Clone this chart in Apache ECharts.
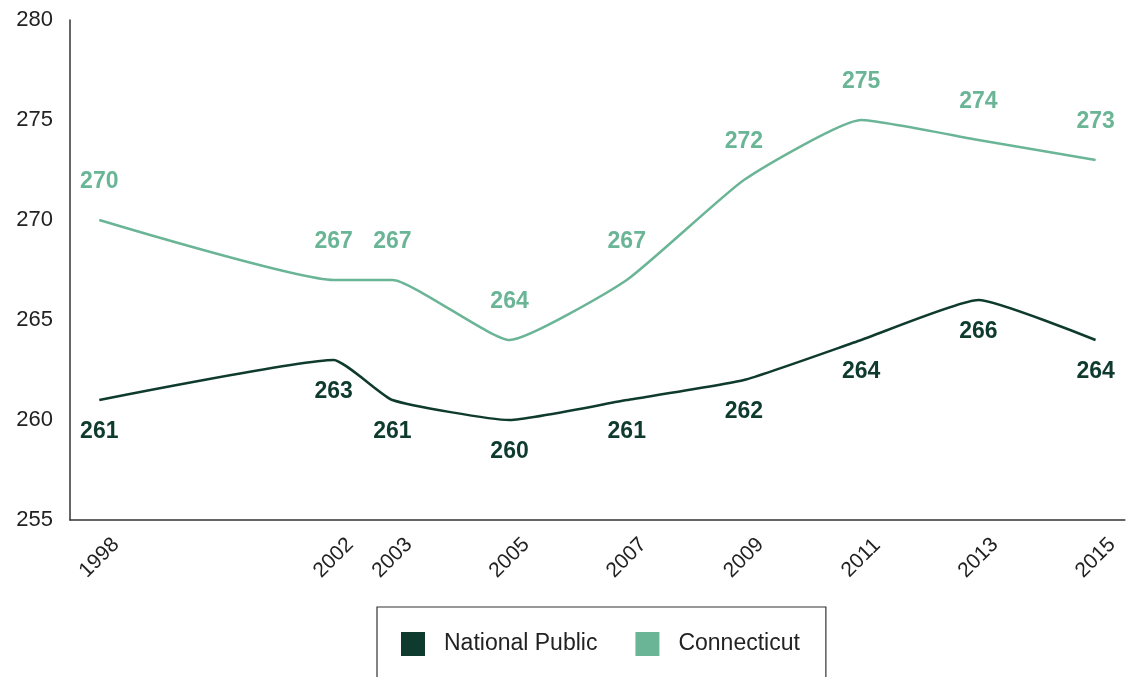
<!DOCTYPE html>
<html><head><meta charset="utf-8">
<script src="https://cdn.jsdelivr.net/npm/echarts@6/dist/echarts.min.js"></script>
<style>html,body{margin:0;padding:0;background:#fff}#c{width:1127px;height:677px}</style>
</head><body><div id="c"></div>
<script>
const years = [1998, 2002, 2003, 2005, 2007, 2009, 2011, 2013, 2015];
const nationalPublic = [261, 263, 261, 260, 261, 262, 264, 266, 264];
const connecticut = [270, 267, 267, 264, 267, 272, 275, 274, 273];
const yTicks = [255, 260, 265, 270, 275, 280];

const darkC = '#0f3b2e', lightC = '#6bb597';
const font = '"Liberation Sans", Arial, sans-serif';
const chart = echarts.init(document.getElementById('c'));
chart.setOption({
  animation: false,
  grid: {left: 70, right: 0, top: 20, bottom: 157},
  xAxis: {
    type: 'value', min: 1997.5, max: 2015.5, interval: 0.5,
    axisLine: {lineStyle: {color: '#333', width: 1.5}},
    axisTick: {show: false}, splitLine: {show: false},
    axisLabel: {
      rotate: 45, margin: 38, fontSize: 21, color: '#222', fontFamily: font,
      align: 'center', verticalAlign: 'middle',
      formatter: v => years.includes(v) ? String(v) : ''
    }
  },
  yAxis: {
    type: 'value', min: yTicks[0], max: yTicks[yTicks.length - 1], interval: 5,
    axisLine: {show: true, lineStyle: {color: '#333', width: 1.5}},
    axisTick: {show: false}, splitLine: {show: false},
    axisLabel: {margin: 17, fontSize: 22, color: '#222', fontFamily: font}
  },
  legend: {
    top: 607, left: 377,
    padding: [25, 26, 45, 24],
    borderColor: '#333', borderWidth: 1.2,
    itemWidth: 24, itemHeight: 24, itemGap: 38, icon: 'rect',
    textStyle: {fontSize: 23, color: '#222', fontFamily: font, padding: [0, 0, 0, 14]},
    data: ['National Public', 'Connecticut']
  },
  series: [
    {
      name: 'National Public', type: 'line', smooth: 0.15,
      data: years.map((y, i) => [y, nationalPublic[i]]),
      symbol: 'circle', symbolSize: 0.1,
      lineStyle: {color: darkC, width: 2.5}, itemStyle: {color: darkC},
      label: {show: true, position: 'bottom', distance: 20, fontSize: 23, fontWeight: 'bold', color: darkC, fontFamily: font}
    },
    {
      name: 'Connecticut', type: 'line', smooth: 0.15,
      data: years.map((y, i) => [y, connecticut[i]]),
      symbol: 'circle', symbolSize: 0.1,
      lineStyle: {color: lightC, width: 2.5}, itemStyle: {color: lightC},
      label: {show: true, position: 'top', distance: 27, fontSize: 23, fontWeight: 'bold', color: lightC, fontFamily: font}
    }
  ]
});
</script></body></html>
